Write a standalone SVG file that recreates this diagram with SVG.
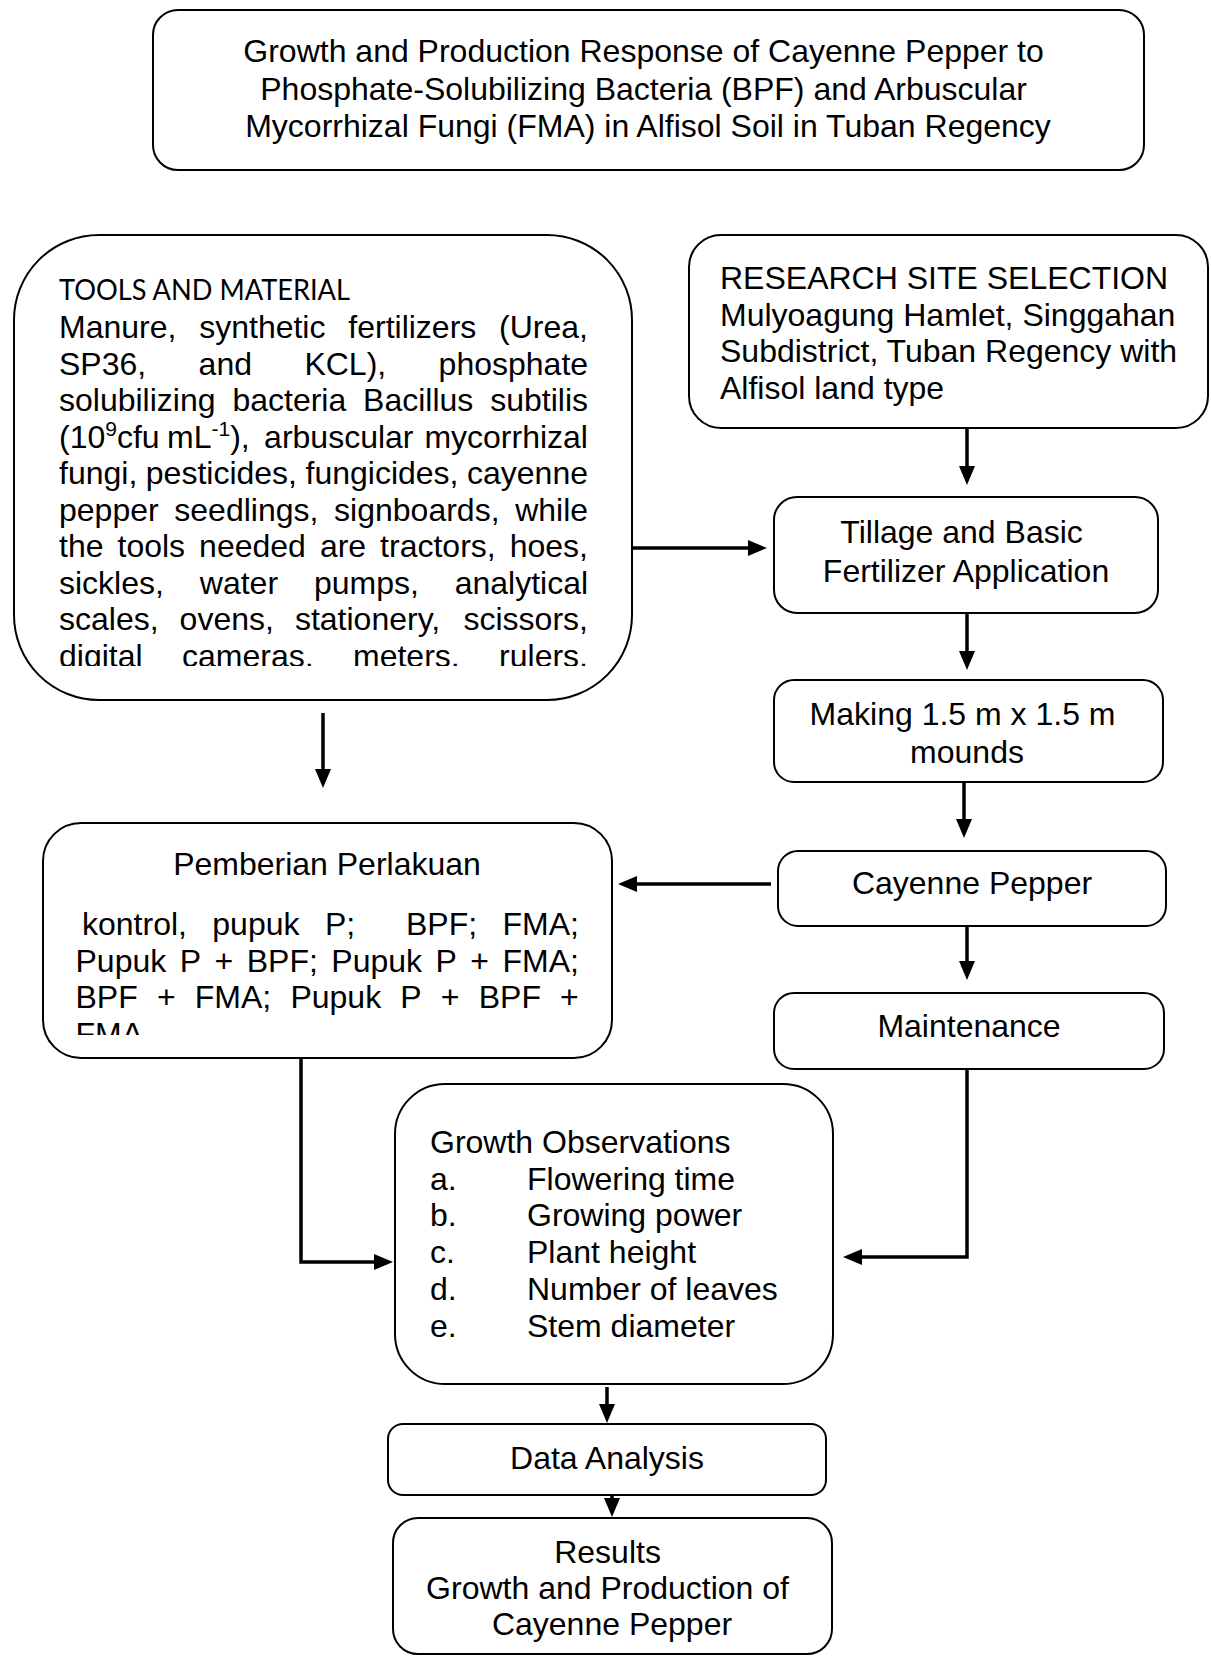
<svg xmlns="http://www.w3.org/2000/svg" width="1211" height="1656" viewBox="0 0 1211 1656">
<style>
.box{fill:#fff;stroke:#000;stroke-width:2}
.t{font-family:"Liberation Sans",Arial,sans-serif;font-size:32px;fill:#000}
.c{text-anchor:middle}
.conn{fill:none;stroke:#000;stroke-width:3.5}
.cal{font-family:Lato,"Open Sans","Liberation Sans",sans-serif;font-size:28px;fill:#000}
</style>
<defs>
<marker id="ah" viewBox="0 0 19 16" refX="14" refY="8" markerWidth="19" markerHeight="16" markerUnits="userSpaceOnUse" orient="auto">
<path d="M0,0 L19,8 L0,16 z" fill="#000"/>
</marker>
<clipPath id="clipTools"><rect x="20" y="240" width="610" height="426"/></clipPath>
<clipPath id="clipPem"><rect x="45" y="830" width="565" height="205"/></clipPath>
</defs>
<rect width="1211" height="1656" fill="#fff"/>

<g id="connectors">
<path class="conn" d="M967,428 V480" marker-end="url(#ah)"/>
<path class="conn" d="M632,548 H762" marker-end="url(#ah)"/>
<path class="conn" d="M967,613 V665" marker-end="url(#ah)"/>
<path class="conn" d="M964,782 V833" marker-end="url(#ah)"/>
<path class="conn" d="M771,884 H623" marker-end="url(#ah)"/>
<path class="conn" d="M967,926 V975" marker-end="url(#ah)"/>
<path class="conn" d="M967,1069 V1257 H848" marker-end="url(#ah)"/>
<path class="conn" d="M323,713 V783" marker-end="url(#ah)"/>
<path class="conn" d="M301,1058 V1262 H388" marker-end="url(#ah)"/>
<path class="conn" d="M607,1387 V1418" marker-end="url(#ah)"/>
<path class="conn" d="M612,1481 V1512" marker-end="url(#ah)"/>
</g>

<g id="title">
<rect class="box" x="153" y="10" width="991" height="160" rx="25"/>
<text class="t c">
<tspan x="648" y="62">Growth and Production Response of Cayenne Pepper to</tspan>
<tspan x="648" y="100">Phosphate-Solubilizing Bacteria (BPF) and Arbuscular</tspan>
<tspan x="648" y="137">Mycorrhizal Fungi (FMA) in Alfisol Soil in Tuban Regency</tspan>
</text>
</g>

<g id="tools">
<rect class="box" x="14" y="235" width="618" height="465" rx="85"/>
<text class="cal" x="59" y="300" textLength="291" lengthAdjust="spacingAndGlyphs">TOOLS AND MATERIAL</text>
<g clip-path="url(#clipTools)">
<text class="t">
<tspan x="59" y="338">Manure,</tspan><tspan x="199.2" y="338">synthetic</tspan><tspan x="348.3" y="338">fertilizers</tspan><tspan x="499.1" y="338">(Urea,</tspan>
<tspan x="59" y="374.5">SP36,</tspan><tspan x="198.6" y="374.5">and</tspan><tspan x="304.4" y="374.5">KCL),</tspan><tspan x="438.6" y="374.5">phosphate</tspan>
<tspan x="59" y="411">solubilizing</tspan><tspan x="232.4" y="411">bacteria</tspan><tspan x="363.1" y="411">Bacillus</tspan><tspan x="490.2" y="411">subtilis</tspan>
<tspan x="59" y="447.5">(10</tspan><tspan font-size="21" dy="-12">9</tspan><tspan dy="12">cfu</tspan><tspan x="167" y="447.5">mL</tspan><tspan font-size="21" dy="-12">-1</tspan><tspan dy="12">),</tspan><tspan x="264.1" y="447.5">arbuscular</tspan><tspan x="424.4" y="447.5">mycorrhizal</tspan>
<tspan x="59" y="484">fungi,</tspan><tspan x="145.8" y="484">pesticides,</tspan><tspan x="305.5" y="484">fungicides,</tspan><tspan x="467" y="484">cayenne</tspan>
<tspan x="59" y="520.5">pepper</tspan><tspan x="174.3" y="520.5">seedlings,</tspan><tspan x="334.1" y="520.5">signboards,</tspan><tspan x="515.2" y="520.5">while</tspan>
<tspan x="59" y="557">the</tspan><tspan x="117.5" y="557">tools</tspan><tspan x="199.1" y="557">needed</tspan><tspan x="319.9" y="557">are</tspan><tspan x="380.1" y="557">tractors,</tspan><tspan x="509.7" y="557">hoes,</tspan>
<tspan x="59" y="593.5">sickles,</tspan><tspan x="199.8" y="593.5">water</tspan><tspan x="313.9" y="593.5">pumps,</tspan><tspan x="454.7" y="593.5">analytical</tspan>
<tspan x="59" y="630">scales,</tspan><tspan x="179.6" y="630">ovens,</tspan><tspan x="294.9" y="630">stationery,</tspan><tspan x="463.5" y="630">scissors,</tspan>
<tspan x="59" y="666.5">digital</tspan><tspan x="182" y="666.5">cameras,</tspan><tspan x="353" y="666.5">meters,</tspan><tspan x="499.1" y="666.5">rulers,</tspan>
</text>
</g>
</g>

<g id="site">
<rect class="box" x="689" y="235" width="519" height="193" rx="32"/>
<text class="t">
<tspan x="720" y="289">RESEARCH SITE SELECTION</tspan>
<tspan x="720" y="326">Mulyoagung Hamlet, Singgahan</tspan>
<tspan x="720" y="362">Subdistrict, Tuban Regency with</tspan>
<tspan x="720" y="399">Alfisol land type</tspan>
</text>
</g>

<g id="tillage">
<rect class="box" x="774" y="497" width="384" height="116" rx="23"/>
<text class="t c">
<tspan x="966" y="543">Tillage and Basic</tspan>
<tspan x="966" y="582">Fertilizer Application</tspan>
</text>
</g>

<g id="mounds">
<rect class="box" x="774" y="680" width="389" height="102" rx="20"/>
<text class="t c">
<tspan x="967" y="725">Making 1.5 m x 1.5 m</tspan>
<tspan x="967" y="763">mounds</tspan>
</text>
</g>

<g id="cayenne">
<rect class="box" x="778" y="851" width="388" height="75" rx="20"/>
<text class="t c" x="972" y="894">Cayenne Pepper</text>
</g>

<g id="maintenance">
<rect class="box" x="774" y="993" width="390" height="76" rx="20"/>
<text class="t c" x="969" y="1037">Maintenance</text>
</g>

<g id="treatment">
<rect class="box" x="43" y="823" width="569" height="235" rx="38"/>
<text class="t c" x="327" y="875">Pemberian Perlakuan</text>
<g clip-path="url(#clipPem)">
<text class="t">
<tspan x="82" y="935">kontrol,</tspan><tspan x="212.3" y="935">pupuk</tspan><tspan x="324.9" y="935">P;</tspan><tspan x="406" y="935">BPF;</tspan><tspan x="502.5" y="935">FMA;</tspan>
<tspan x="75.5" y="971.5">Pupuk</tspan><tspan x="179.7" y="971.5">P</tspan><tspan x="214.5" y="971.5">+</tspan><tspan x="246.7" y="971.5">BPF;</tspan><tspan x="331.3" y="971.5">Pupuk</tspan><tspan x="435.5" y="971.5">P</tspan><tspan x="470.3" y="971.5">+</tspan><tspan x="502.5" y="971.5">FMA;</tspan>
<tspan x="75.5" y="1008">BPF</tspan><tspan x="156.9" y="1008">+</tspan><tspan x="194.8" y="1008">FMA;</tspan><tspan x="290.4" y="1008">Pupuk</tspan><tspan x="400.3" y="1008">P</tspan><tspan x="440.8" y="1008">+</tspan><tspan x="478.7" y="1008">BPF</tspan><tspan x="560.1" y="1008">+</tspan>
<tspan x="75.5" y="1045">FMA</tspan>
</text>
</g>
</g>

<g id="observations">
<rect class="box" x="395" y="1084" width="438" height="300" rx="50"/>
<text class="t">
<tspan x="430" y="1153">Growth Observations</tspan>
<tspan x="430" y="1190">a.</tspan><tspan x="527" y="1190">Flowering time</tspan>
<tspan x="430" y="1226">b.</tspan><tspan x="527" y="1226">Growing power</tspan>
<tspan x="430" y="1263">c.</tspan><tspan x="527" y="1263">Plant height</tspan>
<tspan x="430" y="1300">d.</tspan><tspan x="527" y="1300">Number of leaves</tspan>
<tspan x="430" y="1337">e.</tspan><tspan x="527" y="1337">Stem diameter</tspan>
</text>
</g>

<g id="analysis">
<rect class="box" x="388" y="1424" width="438" height="71" rx="15"/>
<text class="t c" x="607" y="1469">Data Analysis</text>
</g>

<g id="results">
<rect class="box" x="393" y="1518" width="439" height="136" rx="25"/>
<text class="t c">
<tspan x="612" y="1563">Results</tspan>
<tspan x="612" y="1599">Growth and Production of</tspan>
<tspan x="612" y="1635">Cayenne Pepper</tspan>
</text>
</g>
</svg>
